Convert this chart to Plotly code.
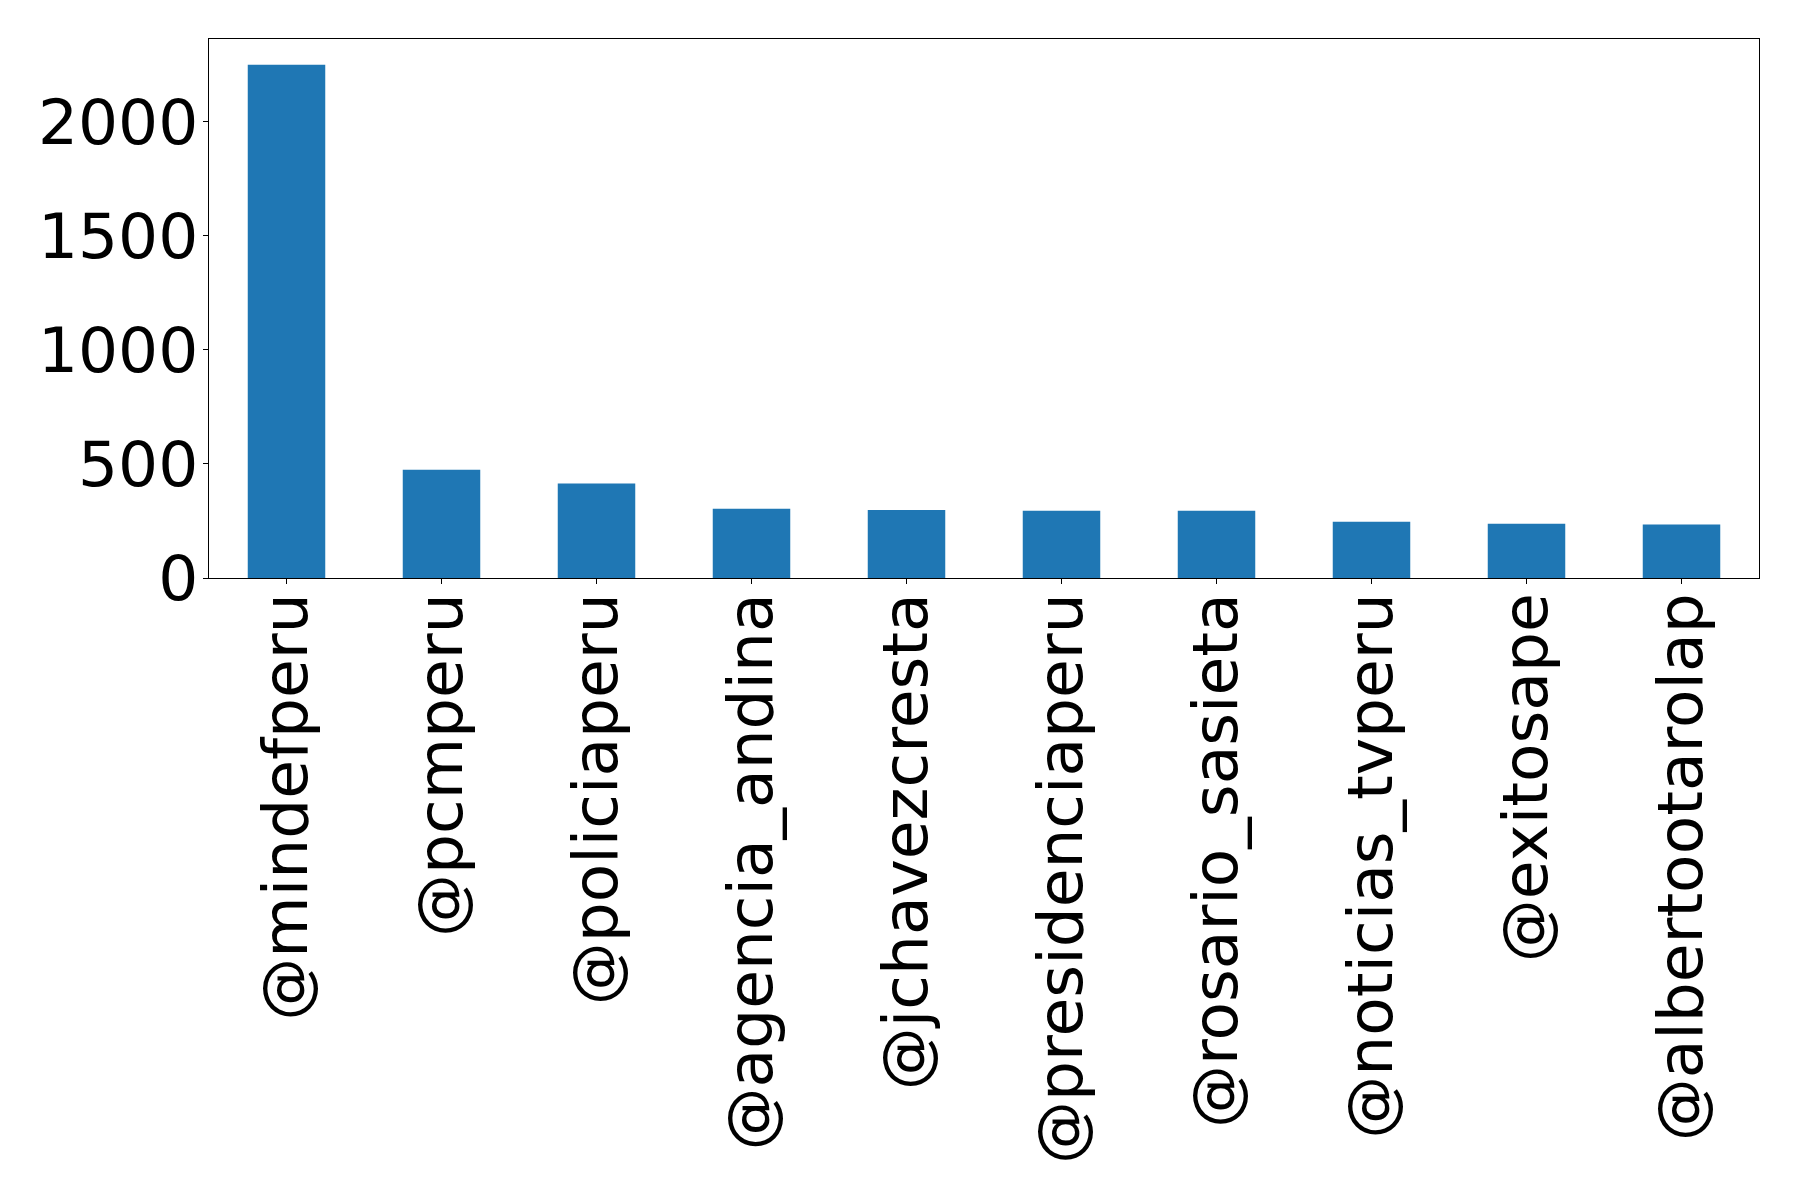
import plotly.graph_objects as go

accounts = ['@mindefperu', '@pcmperu', '@policiaperu', '@agencia_andina', '@jchavezcresta',
            '@presidenciaperu', '@rosario_sasieta', '@noticias_tvperu', '@exitosape', '@albertootarolap']
mentions = [2250, 475, 414, 303, 298, 295, 295, 247, 238, 234]
y_ticks = [0, 500, 1000, 1500, 2000]

fig = go.Figure()
fig.add_trace(go.Bar(x=list(range(len(accounts))), y=mentions, width=0.5,
                     marker=dict(color='#1f77b4', line=dict(width=0))))

# page body has an 8px margin, so pull the plot area back by that much
fig.update_layout(
    width=1798, height=1194,
    margin=dict(l=201, r=47, t=31, b=624),
    plot_bgcolor='white', paper_bgcolor='white',
    font=dict(family='DejaVu Sans', size=63, color='black'),
    showlegend=False,
)
fig.update_xaxes(
    range=[-0.5, 9.5], tickmode='array', tickvals=list(range(len(accounts))), ticktext=accounts,
    tickangle=-90, ticks='outside', ticklen=5, tickwidth=1.3, tickcolor='black',
    ticklabelstandoff=-16,
    showline=True, linecolor='black', linewidth=1.3, mirror=True, showgrid=False, zeroline=False,
)
fig.update_yaxes(
    range=[0, 2362.5], tickmode='array', tickvals=y_ticks,
    ticks='outside', ticklen=5, tickwidth=1.3, tickcolor='black',
    ticklabelstandoff=-8,
    showline=True, linecolor='black', linewidth=1.3, mirror=True, showgrid=False, zeroline=False,
)

fig.write_html("out.html")
